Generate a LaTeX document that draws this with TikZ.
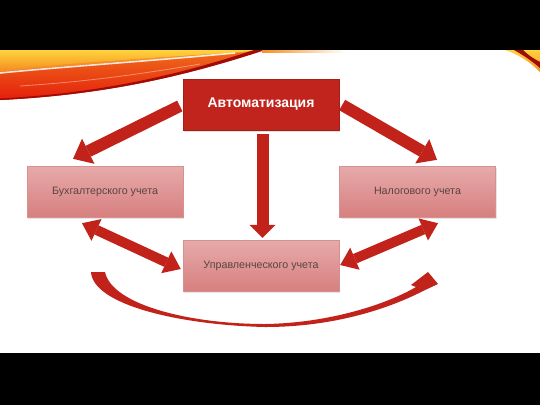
\documentclass[tikz,border=0pt]{standalone}
\usepackage{fontspec}
\setmainfont{Liberation Sans}
\usetikzlibrary{arrows.meta,shadows}
\definecolor{boxred}{HTML}{C0241C}
\definecolor{arrred}{HTML}{C1221A}
\definecolor{pinktop}{HTML}{E7AAAA}
\definecolor{pinkbot}{HTML}{D77F7F}
\definecolor{pinkline}{HTML}{D69090}
\definecolor{txtgray}{HTML}{5A4444}
\definecolor{flyellow}{HTML}{FFD33C}
\definecolor{florange}{HTML}{F59022}
\definecolor{flred}{HTML}{E41E0C}
\definecolor{fldark}{HTML}{A00A08}
\tikzset{
  mainbox/.style={draw=boxred!85!black, fill=boxred, minimum width=156pt, minimum height=51pt,
    inner sep=0pt, text=white, font=\bfseries\fontsize{14}{16}\selectfont,
    drop shadow={opacity=0.25, shadow xshift=1pt, shadow yshift=-1.5pt}},
  subbox/.style={draw=pinkline, top color=pinktop, bottom color=pinkbot, minimum width=156pt,
    minimum height=51pt, inner sep=0pt, text=txtgray, font=\fontsize{10.7}{12}\selectfont,
    drop shadow={opacity=0.2, shadow xshift=1pt, shadow yshift=-1.5pt}},
  bigarrow/.style={draw=arrred, line width=12pt, -{Triangle[width=28pt,length=17pt,line width=0pt]}},
  downarrow/.style={draw=arrred, line width=12pt, -{Triangle[width=26pt,length=13pt,line width=0pt]}},
  dblarrow/.style={draw=arrred, line width=10pt,
    {Triangle[width=24pt,length=16pt,line width=0pt]}-{Triangle[width=24pt,length=16pt,line width=0pt]}},
}
\begin{document}
\begin{tikzpicture}[x=1pt,y=-1pt]
\useasboundingbox (0,0) rectangle (540,405);
\fill[white] (0,0) rectangle (540,405);
% flame swoosh, left
\fill[florange] (0,50) -- (265,50) .. controls (180,78) and (100,95) .. (0,100) -- cycle;
\shade[top color=flyellow, bottom color=florange] (0,50) -- (262,50) -- (240,52) .. controls (150,58) and (60,64) .. (0,70) -- cycle;
\shade[top color=florange!70!flred, bottom color=flred] (0,72) .. controls (60,66) and (150,60) .. (240,53) -- (262,50) .. controls (180,78) and (100,95) .. (0,100) -- cycle;
\draw[white, line width=1.6pt, opacity=0.85] (0,73) .. controls (60,67) and (150,61) .. (235,53);
\draw[white, line width=0.8pt, opacity=0.4] (20,86) .. controls (80,82) and (130,76) .. (200,64);
\fill[fldark] (265,50) .. controls (180,78) and (100,95) .. (0,100) -- (0,98.5) .. controls (100,93) and (175,76) .. (254,50) -- cycle;
\shade[left color=florange, right color=white] (262,50) rectangle (345,52);
% flame swoosh, right corner
\shade[top color=flyellow, bottom color=florange] (505,50) -- (540,50) -- (540,72) .. controls (530,62) and (518,54) .. (505,50) -- cycle;
\fill[fldark] (514,50) -- (523,50) .. controls (528,55) and (534,59) .. (540,62) -- (540,68) .. controls (532,61) and (523,55) .. (514,50) -- cycle;
% black bars
\fill[black] (0,0) rectangle (540,50);
\fill[black] (0,353) rectangle (540,405);
% nodes
\node[mainbox] (auto) at (261,104.5) {Автоматизация};
\node[subbox] (buh) at (105,191.5) {Бухгалтерского учета};
\node[subbox] (nal) at (417.5,191.5) {Налогового учета};
\node[subbox] (upr) at (261,265.5) {Управленческого учета};
% arrows
\draw[bigarrow] ([xshift=-3pt,yshift=-1.5pt]auto.west) -- ([xshift=-32pt,yshift=7pt]buh.north);
\draw[bigarrow] ([xshift=3pt,yshift=-0.5pt]auto.east) -- ([xshift=19.5pt,yshift=6pt]nal.north);
\draw[downarrow] ([xshift=1.5pt,yshift=-4pt]auto.south) -- ([xshift=1.5pt,yshift=2pt]upr.north);
\draw[dblarrow] ([xshift=-23pt,yshift=-6pt]buh.south) -- ([xshift=-2pt,yshift=-3.5pt]upr.west);
\draw[dblarrow] ([xshift=20.5pt,yshift=-6pt]nal.south) -- ([xshift=1pt,yshift=0.5pt]upr.east);
% curved arrow
\fill[arrred] (91,272) .. controls (93,305) and (180,325) .. (265,327)
  .. controls (337,327) and (392,307) .. (423,291)
  -- (438,284) -- (428,272) -- (411,285) -- (416,287)
  .. controls (387,304) and (330,323) .. (265,324)
  .. controls (190,324) and (112,305) .. (105,272) -- cycle;
\end{tikzpicture}
\end{document}
